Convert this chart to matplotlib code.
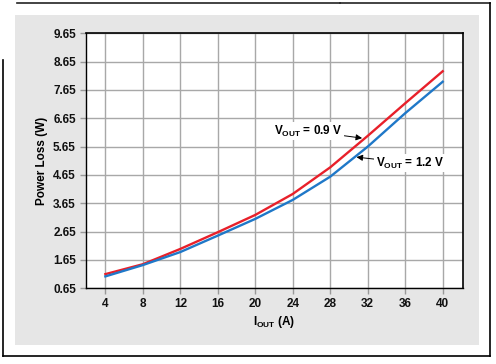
import matplotlib

matplotlib.use("Agg")
import matplotlib.pyplot as plt
from matplotlib.lines import Line2D
from matplotlib.patches import Rectangle

plt.rcParams["font.family"] = ["Liberation Sans", "DejaVu Sans"]
plt.rcParams["mathtext.default"] = "regular"

# data
iout = [4, 8, 12, 16, 20, 24, 28, 32, 36, 40]
loss_09v = [1.15, 1.50, 2.04, 2.63, 3.24, 3.98, 4.92, 6.03, 7.18, 8.31]
loss_12v = [1.07, 1.47, 1.93, 2.51, 3.10, 3.77, 4.59, 5.65, 6.83, 7.94]
yticks = [0.65, 1.65, 2.65, 3.65, 4.65, 5.65, 6.65, 7.65, 8.65, 9.65]

W, H = 496, 364
fig = plt.figure(figsize=(W / 100, H / 100), dpi=100)
fig.patch.set_facecolor("white")

# grey panel behind the chart
fig.add_artist(Rectangle((15 / W, 1 - 345 / H), 464 / W, 330 / H,
                         transform=fig.transFigure, facecolor="#e6e6e6",
                         edgecolor="none", zorder=0))


def fig_line(x0, y0, x1, y1, color="black", lw=1.2):
    fig.add_artist(Line2D([x0 / W, x1 / W], [1 - y0 / H, 1 - y1 / H],
                          transform=fig.transFigure, color=color, lw=lw))


# cropped outer frame
fig_line(17, 3, 340, 3, color="#222222")
fig_line(340, 3, 490, 3, color="#222222")
fig_line(490, 3, 490, 356)
fig_line(3, 356, 490, 356)
fig_line(3, 60, 3, 356)

ax = fig.add_axes([85.7 / W, 1 - 288.3 / H, (463.3 - 85.7) / W, (288.3 - 33.3) / H])
ax.set_facecolor("white")

red = "#e8202a"
blue = "#1f78c8"
ax.plot(iout, loss_09v, color=red, lw=1.7, zorder=3)
ax.plot(iout, loss_12v, color=blue, lw=1.7, zorder=3)

ax.set_xlim(1.9, 42.2)
ax.set_ylim(0.65, 9.65)
ax.set_xticks(iout)
ax.set_yticks(yticks)
ax.set_yticklabels([f"{v:.2f}" for v in yticks])
ax.grid(True, color="#a8a8a8", lw=1.0, zorder=1)
ax.set_axisbelow(True)

for s in ax.spines.values():
    s.set_color("black")
    s.set_linewidth(1.0)
ax.spines["right"].set_linewidth(1.2)
ax.spines["top"].set_linewidth(1.2)

ax.tick_params(axis="both", direction="out", length=4, width=1, color="#999999",
               labelsize=8.5, pad=3)
for lab in ax.get_xticklabels() + ax.get_yticklabels():
    lab.set_fontweight("bold")
    lab.set_color("#111111")

ax.set_ylabel("Power Loss (W)", fontsize=8.5, fontweight="bold", labelpad=4)
ax.set_xlabel("I$_{OUT}$ (A)", fontsize=8.5, fontweight="bold", labelpad=3)

box = dict(facecolor="white", edgecolor="none", pad=1.0)
arrow = dict(arrowstyle="-|>", color="black", lw=0.7, mutation_scale=9,
             shrinkA=0, shrinkB=0)
ax.annotate("V$_{OUT}$ = 0.9 V", xy=(31.4, 5.95), xytext=(25.7, 6.2),
            ha="center", va="center", fontsize=8.5, fontweight="bold", bbox=box,
            arrowprops=arrow, zorder=4)
ax.annotate("V$_{OUT}$ = 1.2 V", xy=(30.8, 5.28), xytext=(36.5, 5.07),
            ha="center", va="center", fontsize=8.5, fontweight="bold", bbox=box,
            arrowprops=arrow, zorder=4)

fig.savefig("out.png", dpi=100)
